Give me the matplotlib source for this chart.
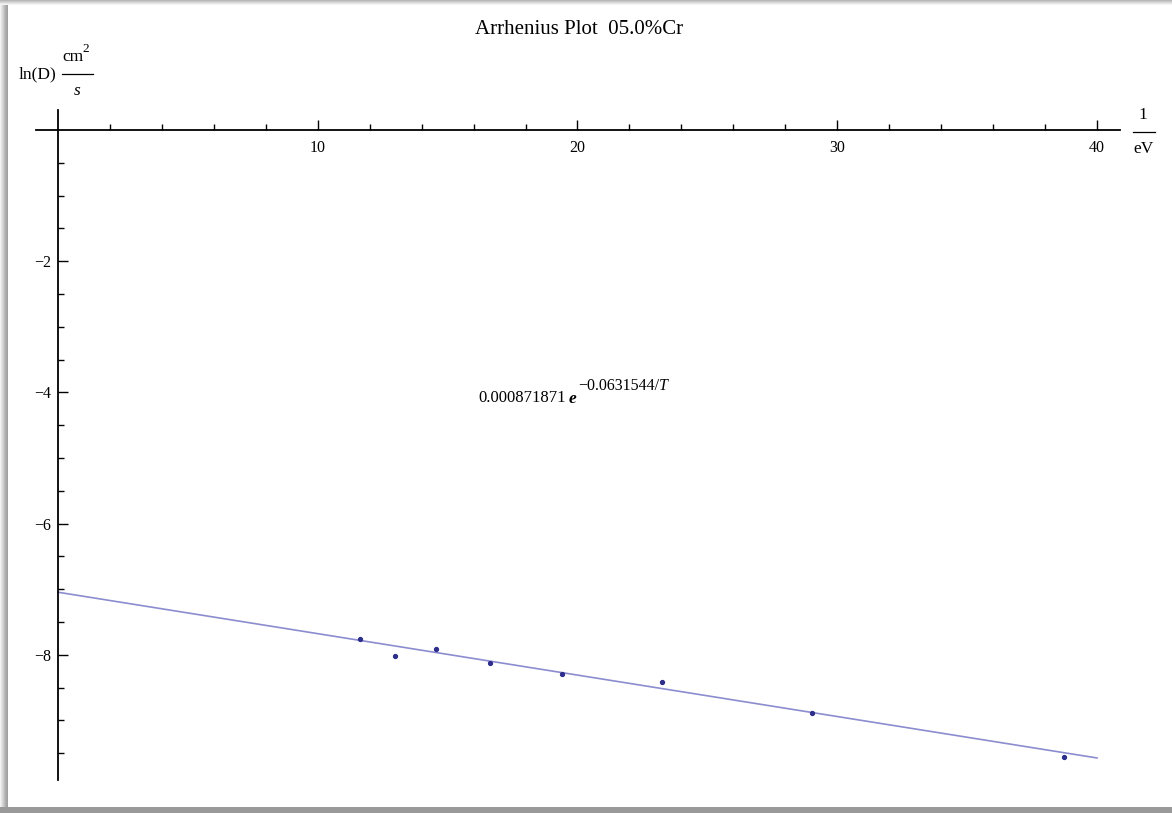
import matplotlib
matplotlib.use("Agg")
import matplotlib.pyplot as plt
import matplotlib.patches as patches
from matplotlib.lines import Line2D
import numpy as np

# data
inv_t = [11.63, 12.97, 14.55, 16.63, 19.40, 23.25, 29.03, 38.73]
ln_d = [-7.76, -8.02, -7.91, -8.13, -8.29, -8.41, -8.89, -9.56]

# fit from the label: D = a * exp(-b/T)
fit_a = 0.000871871
fit_b = 0.0631544
fit_range = [0, 40]

x_major = [10, 20, 30, 40]
x_minor = [2, 4, 6, 8, 12, 14, 16, 18, 22, 24, 26, 28, 32, 34, 36, 38]
y_major = [-2, -4, -6, -8]
y_minor = [-0.5, -1, -1.5, -2.5, -3, -3.5, -4.5, -5, -5.5, -6.5, -7, -7.5, -8.5, -9, -9.5]

plt.rcParams["font.family"] = ["Liberation Serif", "DejaVu Serif"]

W, H = 1172, 813
fig = plt.figure(figsize=(W / 100, H / 100), dpi=100)
fig.patch.set_facecolor("white")


def fx(px):
    return px / W


def fy(py):
    return 1 - py / H


# grey screenshot shadow round the page
def band(x0, y0, x1, y1, color):
    fig.patches.append(patches.Rectangle((fx(x0), fy(y1)), fx(x1) - fx(x0), fy(y0) - fy(y1),
                                         transform=fig.transFigure, facecolor=color,
                                         edgecolor="none", zorder=-10))


for i, c in enumerate(["#f2f2f2", "#e6e6e6", "#d8d8d8", "#cccccc", "#bdbdbd", "#b0b0b0", "#a8a8a8", "#a0a0a0"]):
    band(i, 0, i + 1, H, c)
for i, c in enumerate(["#b8b8b8", "#c8c8c8", "#d8d8d8", "#e8e8e8", "#f4f4f4"]):
    band(0, i, W, i + 1, c)
band(0, 807, W, H, "#999999")

ax = fig.add_axes([0, 0, 1, 1])
ax.set_facecolor("none")
ax.set_xlim(-2.233, 42.888)
ax.set_ylim(-10.41, 1.982)

xs = np.linspace(fit_range[0], fit_range[1], 100)
ax.plot(xs, np.log(fit_a) - fit_b * xs, color="#8c8cd0", lw=1.2)
ax.plot(inv_t, ln_d, "o", color="#2e2e8c", ms=2.8)

for side in ["top", "right"]:
    ax.spines[side].set_visible(False)
ax.spines["left"].set_position(("data", 0))
ax.spines["bottom"].set_position(("data", 0))
ax.spines["bottom"].set_bounds(-0.85, 40.9)
ax.spines["left"].set_bounds(-9.9, 0.3)
ax.spines["left"].set_linewidth(1.3)
ax.spines["bottom"].set_linewidth(1.3)

ax.set_xticks(x_major)
ax.set_xticks(x_minor, minor=True)
ax.set_yticks(y_major)
ax.set_yticks(y_minor, minor=True)
ax.set_yticklabels(["\u22122", "\u22124", "\u22126", "\u22128"])
ax.tick_params(which="both", direction="in", labelsize=11.5, width=1)
ax.tick_params(which="major", length=7)
ax.tick_params(which="minor", length=4.5)
ax.tick_params(axis="x", pad=7)
ax.tick_params(axis="y", pad=5)

fig.text(fx(579), fy(30), "Arrhenius Plot  05.0%Cr", ha="center", va="center", fontsize=15)

# y-axis label with a built fraction
fig.text(fx(19), fy(74), "ln(D)", ha="left", va="center", fontsize=12.5)
fig.text(fx(62), fy(57), "cm", ha="left", va="center", fontsize=12.5)
fig.text(fx(82), fy(49), "2", ha="left", va="center", fontsize=9.5)
fig.lines.append(Line2D([fx(62), fx(93)], [fy(74), fy(74)], transform=fig.transFigure,
                        color="black", lw=0.9))
fig.text(fx(77), fy(91), "s", ha="center", va="center", fontsize=12.5, style="italic")

# x-axis label
fig.text(fx(1143), fy(115), "1", ha="center", va="center", fontsize=12.5)
fig.lines.append(Line2D([fx(1133), fx(1155)], [fy(132), fy(132)], transform=fig.transFigure,
                        color="black", lw=0.9))
fig.text(fx(1143), fy(149), "eV", ha="center", va="center", fontsize=12.5)

# fit label, pieces chained one after another
renderer = fig.canvas.get_renderer()
pieces = [
    ("0.000871871", 398, 12, "normal", "normal", 0),
    ("e", 399, 12.5, "italic", "bold", 3),
    ("\u22120.0631544/", 386, 11.5, "normal", "normal", 2),
    ("T", 386, 11.5, "italic", "normal", 0),
]
cur = 478
for txt, py, size, st, wt, gap in pieces:
    cur += gap
    t = fig.text(fx(cur), fy(py), txt, ha="left", va="center", fontsize=size, style=st, weight=wt)
    cur = t.get_window_extent(renderer).x1

fig.savefig("out.png", dpi=100)
